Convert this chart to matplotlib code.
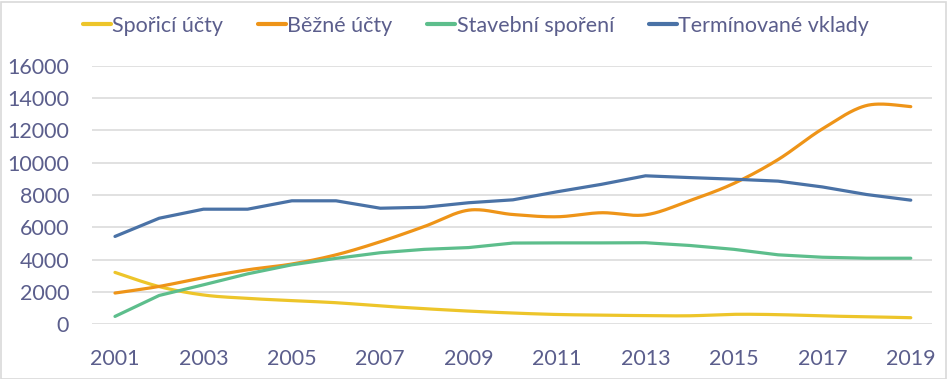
import numpy as np
import matplotlib
matplotlib.use("Agg")
import matplotlib.pyplot as plt
from matplotlib.patches import Rectangle

years = list(range(2001, 2020))
sporici = [3200, 2320, 1800, 1590, 1450, 1320, 1120, 950, 800, 680, 590, 550, 520, 510, 600, 580, 500, 450, 390]
bezne = [1920, 2330, 2880, 3360, 3720, 4290, 5100, 6050, 7060, 6790, 6650, 6900, 6770, 7650, 8720, 10200, 12100, 13550, 13480]
stavebni = [470, 1770, 2430, 3110, 3670, 4070, 4420, 4630, 4740, 5020, 5030, 5030, 5040, 4870, 4630, 4290, 4140, 4080, 4080]
terminovane = [5430, 6560, 7120, 7120, 7640, 7640, 7180, 7240, 7520, 7700, 8200, 8660, 9190, 9080, 8980, 8860, 8500, 8030, 7680]

labels = ["Spořicí účty", "Běžné účty", "Stavební spoření", "Termínované vklady"]
colors = ["#EDC52A", "#EE9418", "#5DBE8C", "#4A72A6"]
smoothed = [True, True, False, False]
xtick_labels = [str(y) for y in range(2001, 2020, 2)]
yticks = list(range(0, 16001, 2000))

text_color = "#5B5E8C"
font = "Lato"


def smooth(x, y, n=30):
    x = np.asarray(x, float)
    y = np.asarray(y, float)
    px = np.concatenate([[x[0]], x, [x[-1]]])
    py = np.concatenate([[y[0]], y, [y[-1]]])
    xs, ys = [], []
    t = np.linspace(0, 1, n)
    for i in range(1, len(px) - 2):
        p0 = np.array([px[i], py[i]])
        p3 = np.array([px[i + 1], py[i + 1]])
        p1 = p0 + (np.array([px[i + 1], py[i + 1]]) - np.array([px[i - 1], py[i - 1]])) / 6
        p2 = p3 - (np.array([px[i + 2], py[i + 2]]) - np.array([px[i], py[i]])) / 6
        b = ((1 - t) ** 3)[:, None] * p0 + (3 * (1 - t) ** 2 * t)[:, None] * p1 \
            + (3 * (1 - t) * t ** 2)[:, None] * p2 + (t ** 3)[:, None] * p3
        xs.extend(b[:, 0])
        ys.extend(b[:, 1])
    return np.array(xs), np.array(ys)


fig = plt.figure(figsize=(9.47, 3.79), dpi=100)
ax = fig.add_axes([92 / 947, 1 - 324 / 379, (932 - 92) / 947, (324 - 66) / 379])

for data, lab, col, sm in zip([sporici, bezne, stavebni, terminovane], labels, colors, smoothed):
    if sm:
        sx, sy = smooth(years, data)
    else:
        sx, sy = years, data
    ax.plot(sx, sy, color=col, lw=2.3, label=lab, solid_capstyle="round", solid_joinstyle="round")

ax.set_xlim(2000.48, 2019.48)
ax.set_ylim(0, 16000)
ax.set_yticks(yticks)
ax.set_yticklabels([str(v) for v in yticks])
ax.set_xticks(list(range(2001, 2020, 2)))
ax.set_xticklabels(xtick_labels)
ax.grid(axis="y", color="#D9D9D9", lw=1.1)
ax.set_axisbelow(True)
for s in ax.spines.values():
    s.set_visible(False)
ax.tick_params(length=0, labelsize=15.5, labelcolor=text_color)
ax.tick_params(axis="y", pad=16.5)
ax.tick_params(axis="x", pad=18)
for t in ax.get_xticklabels() + ax.get_yticklabels():
    t.set_fontfamily(font)

leg = fig.legend(loc="center", bbox_to_anchor=(476 / 947, 1 - 26 / 379), ncol=4, frameon=False,
                 handlelength=1.3, handletextpad=0.05, columnspacing=1.62,
                 prop={"family": font, "size": 15.5})
for t in leg.get_texts():
    t.set_color(text_color)
for h in leg.get_lines():
    h.set_linewidth(3)

fig.patches.append(Rectangle((0.5 / 947, 0.5 / 379), 945 / 947, 377 / 379, transform=fig.transFigure,
                             fill=False, edgecolor="#D9D9D9", lw=1.2))

fig.savefig("out.png", dpi=100)
